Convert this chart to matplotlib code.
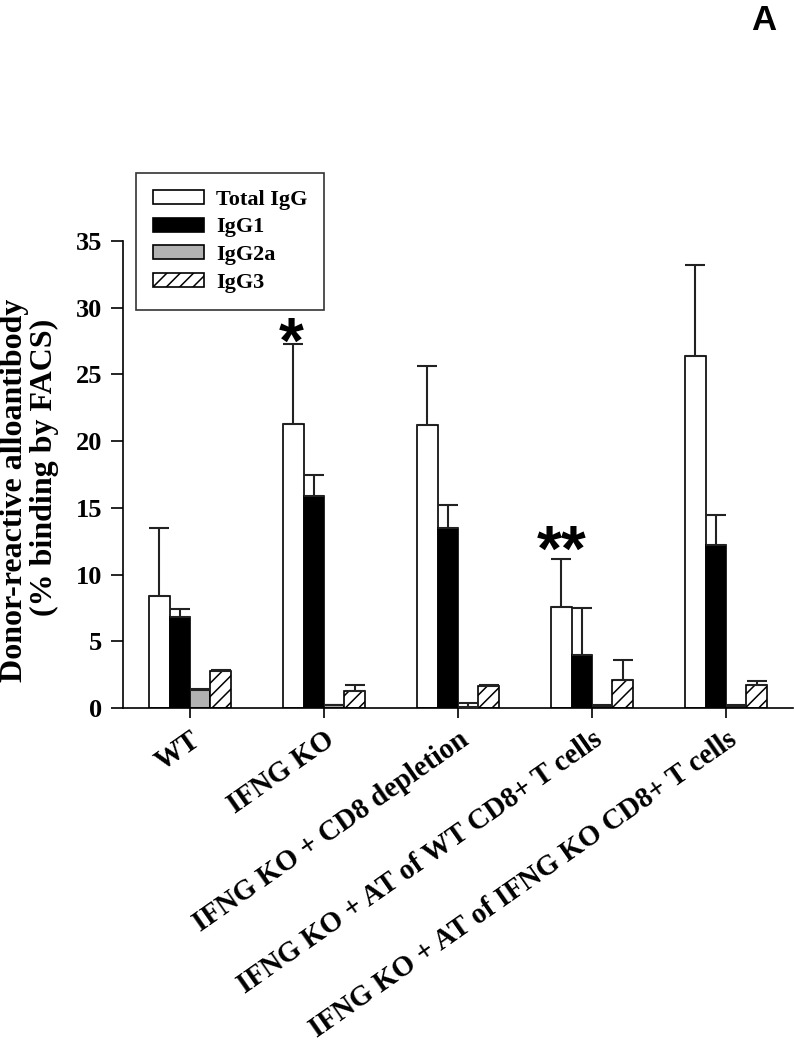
import matplotlib
matplotlib.use("Agg")
import matplotlib.pyplot as plt
import matplotlib.transforms as mtransforms
import numpy as np

groups = ["WT", "IFNG KO", "IFNG KO + CD8 depletion",
          "IFNG KO + AT of WT CD8+ T cells",
          "IFNG KO + AT of IFNG KO CD8+ T cells"]
series = ["Total IgG", "IgG1", "IgG2a", "IgG3"]

total = [8.4, 21.3, 21.2, 7.6, 26.4]
total_err = [5.1, 6.0, 4.4, 3.6, 6.8]
igg1 = [6.85, 15.9, 13.5, 4.0, 12.2]
igg1_err = [0.6, 1.6, 1.75, 3.5, 2.3]
igg2a = [1.35, 0.2, 0.1, 0.15, 0.15]
igg2a_err = [0.05, 0.05, 0.25, 0.05, 0.05]
igg3 = [2.75, 1.3, 1.65, 2.1, 1.7]
igg3_err = [0.1, 0.45, 0.05, 1.5, 0.3]

yticks = [0, 5, 10, 15, 20, 25, 30, 35]

# render at 80 dpi so the hatch spacing matches; S rescales point sizes
DPI = 80
S = 100 / DPI
plt.rcParams['hatch.linewidth'] = 1.1 * S

W, H = 794, 1049
fig = plt.figure(figsize=(W / DPI, H / DPI), dpi=DPI)
ax = fig.add_axes([123 / W, 1 - 708 / H, (793 - 123) / W, (708 - 241) / H])

serif = 'Liberation Serif'
x = np.arange(len(groups))
bw = 0.152
vals = [total, igg1, igg2a, igg3]
errs = [total_err, igg1_err, igg2a_err, igg3_err]
faces = ['white', 'black', '#b2b2b2', 'white']
hatches = [None, None, None, '//']
for i, (v, e, fc, h) in enumerate(zip(vals, errs, faces, hatches)):
    pos = x + (i - 1.5) * bw
    ax.bar(pos, v, bw, color=fc, edgecolor='black', linewidth=1.2 * S,
           hatch=h, label=series[i], zorder=2)
    ax.errorbar(pos, v, yerr=[np.zeros(len(e)), e], fmt='none',
                ecolor='#222222', elinewidth=1.5 * S, capsize=7.5 * S,
                capthick=1.5 * S, zorder=3)

ax.set_xlim(-0.5, 4.5)
ax.set_ylim(0, 35)
ax.set_yticks(yticks)
ax.set_yticklabels([str(t) for t in yticks], fontfamily=serif,
                   fontweight='bold', fontsize=19 * S)
ax.set_xticks(x)
ax.set_xticklabels(groups, fontfamily=serif, fontweight='bold',
                   fontsize=20.6 * S, rotation=35, ha='right', va='top',
                   rotation_mode='anchor')
shift = mtransforms.ScaledTranslation(-4 / DPI, 7 / DPI, fig.dpi_scale_trans)
for lab in ax.get_xticklabels():
    lab.set_transform(lab.get_transform() + shift)
ax.tick_params(axis='y', direction='out', length=9 * S, width=1.2 * S,
               pad=6 * S)
ax.tick_params(axis='x', direction='out', length=7 * S, width=1.2 * S,
               pad=6 * S)
for s in ['top', 'right']:
    ax.spines[s].set_visible(False)
for s in ['left', 'bottom']:
    ax.spines[s].set_linewidth(1.2 * S)

# significance markers
ax.text(x[1] - 1.5 * bw - 0.02, 25.9, '*', fontsize=46 * S,
        fontweight='bold', fontfamily='Liberation Sans',
        ha='center', va='baseline')
ax.text(x[3] - 1.5 * bw, 10.3, '**', fontsize=46 * S, fontweight='bold',
        fontfamily='Liberation Sans', ha='center', va='baseline')

leg = ax.legend(loc='upper left', bbox_to_anchor=(136 / W, 1 - 173 / H),
                bbox_transform=fig.transFigure, borderaxespad=0,
                prop={'family': serif, 'weight': 'bold', 'size': 16 * S},
                frameon=True, fancybox=False, edgecolor='black',
                handlelength=2.3, handleheight=0.6, handletextpad=0.55,
                borderpad=0.75, labelspacing=0.35)
leg.get_frame().set_linewidth(1.2 * S)

fig.text(15 / W, 1 - 490 / H, 'Donor-reactive alloantibody', rotation=90,
         fontfamily=serif, fontweight='bold', fontsize=23 * S,
         ha='center', va='center')
fig.text(44 / W, 1 - 467 / H, '(% binding by FACS)', rotation=90,
         fontfamily=serif, fontweight='bold', fontsize=23 * S,
         ha='center', va='center')

fig.text(764 / W, 1 - 20 / H, 'A', fontfamily='Liberation Sans',
         fontweight='bold', fontsize=25 * S, ha='center', va='center')

fig.savefig('out.png', dpi=DPI)
